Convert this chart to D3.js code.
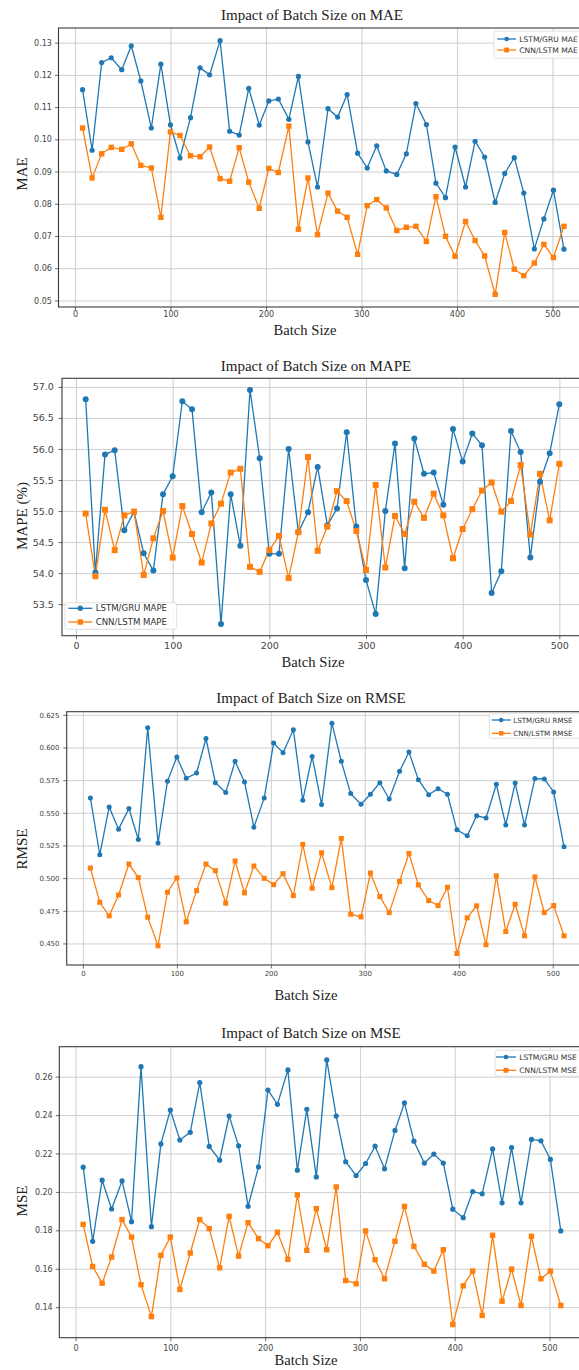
<!DOCTYPE html>
<html><head><meta charset="utf-8">
<script src="https://cdn.jsdelivr.net/npm/d3@7"></script>
<style>body{margin:0;background:#fff;overflow:hidden} svg{display:block}</style>
</head><body><svg id="c" width="579" height="1370"></svg>
<script>
// ---------- DATA ----------
const batchSizesA = [8,18,28,38,49,59,69,80,90,100,110,121,131,141,152,162,172,182,193,203,213,224,234,244,254,265,275,285,296,306,316,326,337,347,357,368,378,388,398,409,419,429,440,450,460,470,481,491,501,512];
const batchSizesB = [10,20,30,40,50,60,70,80,90,100,110,120,130,140,150,160,170,180,190,200,210,220,230,240,250,260,270,280,290,300,310,320,330,340,350,360,370,380,390,400,410,420,430,440,450,460,470,480,490,500];

const maeLstmGru = [0.1154,0.0966,0.1238,0.1253,0.1216,0.1290,0.1181,0.1035,0.1233,0.1045,0.0942,0.1067,0.1222,0.1200,0.1306,0.1025,0.1013,0.1158,0.1044,0.1119,0.1125,0.1062,0.1195,0.0992,0.0852,0.1095,0.1069,0.1139,0.0957,0.0911,0.0980,0.0902,0.0891,0.0955,0.1111,0.1046,0.0864,0.0819,0.0976,0.0852,0.0994,0.0945,0.0804,0.0894,0.0943,0.0833,0.0660,0.0753,0.0842,0.0659];
const maeCnnLstm = [0.1035,0.0880,0.0955,0.0975,0.0969,0.0986,0.0919,0.0911,0.0758,0.1023,0.1012,0.0949,0.0946,0.0976,0.0878,0.0870,0.0974,0.0867,0.0786,0.0910,0.0897,0.1041,0.0721,0.0880,0.0704,0.0833,0.0777,0.0758,0.0643,0.0794,0.0813,0.0787,0.0717,0.0727,0.0730,0.0683,0.0822,0.0699,0.0637,0.0745,0.0686,0.0638,0.0519,0.0711,0.0597,0.0577,0.0616,0.0674,0.0633,0.0730];

const mapeLstmGru = [56.80,54.01,55.91,55.98,54.69,54.99,54.32,54.04,55.27,55.56,56.77,56.64,54.98,55.30,53.18,55.27,54.44,56.95,55.85,54.31,54.31,56.00,54.66,54.98,55.71,54.77,55.04,56.27,54.75,53.89,53.34,55.00,56.09,54.08,56.17,55.60,55.62,55.10,56.32,55.80,56.25,56.06,53.68,54.03,56.29,55.95,54.25,55.47,55.93,56.72];
const mapeCnnLstm = [54.96,53.95,55.02,54.37,54.93,54.99,53.97,54.56,55.00,54.25,55.08,54.63,54.17,54.80,55.12,55.62,55.68,54.10,54.02,54.37,54.60,53.92,54.66,55.87,54.36,54.75,55.32,55.16,54.68,54.05,55.42,54.09,54.92,54.63,55.15,54.89,55.28,54.93,54.24,54.71,55.03,55.33,55.46,54.99,55.16,55.74,54.62,55.60,54.85,55.76];

const rmseLstmGru = [0.5614,0.5179,0.5545,0.5375,0.5533,0.5296,0.6151,0.5268,0.5741,0.5927,0.5764,0.5805,0.6069,0.5731,0.5655,0.5894,0.5736,0.5390,0.5614,0.6034,0.5960,0.6136,0.5596,0.5932,0.5563,0.6186,0.5894,0.5647,0.5566,0.5642,0.5731,0.5606,0.5818,0.5965,0.5754,0.5639,0.5685,0.5642,0.5370,0.5324,0.5477,0.5461,0.5718,0.5406,0.5728,0.5406,0.5762,0.5759,0.5660,0.5240];
const rmseCnnLstm = [0.5077,0.4815,0.4711,0.4871,0.5108,0.5004,0.4701,0.4482,0.4892,0.5001,0.4665,0.4904,0.5108,0.5057,0.4808,0.5131,0.4887,0.5093,0.4998,0.4950,0.5034,0.4866,0.5258,0.4922,0.5194,0.4927,0.5304,0.4724,0.4703,0.5039,0.4859,0.4736,0.4975,0.5189,0.4948,0.4828,0.4790,0.4930,0.4423,0.4696,0.4788,0.4490,0.5017,0.4591,0.4800,0.4558,0.5009,0.4736,0.4790,0.4558];

const mseLstmGru = [0.2129,0.1743,0.2061,0.1911,0.2057,0.1845,0.2652,0.1819,0.2250,0.2426,0.2270,0.2310,0.2569,0.2237,0.2165,0.2395,0.2240,0.1925,0.2130,0.2530,0.2456,0.2635,0.2113,0.2430,0.2078,0.2687,0.2395,0.2157,0.2085,0.2148,0.2238,0.2120,0.2320,0.2463,0.2264,0.2150,0.2197,0.2150,0.1910,0.1866,0.2002,0.1990,0.2224,0.1943,0.2231,0.1943,0.2273,0.2266,0.2169,0.1797];
const mseCnnLstm = [0.1831,0.1612,0.1525,0.1661,0.1856,0.1765,0.1517,0.1351,0.1670,0.1765,0.1492,0.1682,0.1856,0.1809,0.1605,0.1873,0.1666,0.1840,0.1757,0.1720,0.1790,0.1649,0.1984,0.1696,0.1913,0.1699,0.2026,0.1539,0.1522,0.1797,0.1647,0.1548,0.1743,0.1925,0.1717,0.1623,0.1588,0.1699,0.1310,0.1511,0.1588,0.1357,0.1774,0.1431,0.1598,0.1409,0.1769,0.1548,0.1588,0.1409];

const xTickValues = [0,100,200,300,400,500];
const maeTicks = [0.05,0.06,0.07,0.08,0.09,0.10,0.11,0.12,0.13];
const mapeTicks = [53.5,54.0,54.5,55.0,55.5,56.0,56.5,57.0];
const rmseTicks = [0.450,0.475,0.500,0.525,0.550,0.575,0.600,0.625];
const mseTicks = [0.14,0.16,0.18,0.20,0.22,0.24,0.26];

const titles = ["Impact of Batch Size on MAE","Impact of Batch Size on MAPE","Impact of Batch Size on RMSE","Impact of Batch Size on MSE"];
const yLabels = ["MAE","MAPE (%)","RMSE","MSE"];
const xLabel = "Batch Size";
const seriesNames = [["LSTM/GRU MAE","CNN/LSTM MAE"],["LSTM/GRU MAPE","CNN/LSTM MAPE"],["LSTM/GRU RMSE","CNN/LSTM RMSE"],["LSTM/GRU MSE","CNN/LSTM MSE"]];

// ---------- STYLE / LAYOUT ----------
const BLUE = "#1f77b4", ORANGE = "#ff7f0e";
const svg = d3.select("#c");
const SERIF = "'Liberation Serif','Times New Roman',serif";
const SANS = "'DejaVu Sans',sans-serif";

const panels = [
 {x: batchSizesA, a: maeLstmGru, b: maeCnnLstm, yTicks: maeTicks, fmt: ".2f",
  left:58.5, right:588, top:28, bottom:307, tickFont:8, yTickGap:6.6, xTickBase:317.5,
  titleX:312, titleY:19.5, xlabX:305, xlabY:335, ylabX:27, ylabY:174,
  r:2.6, sq:5.4,
  leg:{x:494, y:31, h:27.3, w:120, rows:[39,50], l0:497.3, l1:516, tx:519.3, font:7.6}},
 {x: batchSizesB, a: mapeLstmGru, b: mapeCnnLstm, yTicks: mapeTicks, fmt: ".1f",
  left:62, right:583, top:378.3, bottom:635.7, tickFont:9.5, yTickGap:8.2, xTickBase:649,
  titleX:316, titleY:370.5, xlabX:313, xlabY:667, ylabX:26.5, ylabY:516,
  r:3, sq:6,
  leg:{x:65, y:602.7, h:26.6, w:111.7, rows:[608.3,622], l0:68.3, l1:92.3, tx:95.7, font:8.6}},
 {x: batchSizesA, a: rmseLstmGru, b: rmseCnnLstm, yTicks: rmseTicks, fmt: ".3f",
  left:66.7, right:587.7, top:711.7, bottom:965, tickFont:7, yTickGap:7.2, xTickBase:976.7,
  titleX:311, titleY:703, xlabX:306, xlabY:999.5, ylabX:27, ylabY:849,
  r:2.5, sq:5,
  leg:{x:489.3, y:713.3, h:25, w:120, rows:[720,733.3], l0:491.7, l1:510.7, tx:513.3, font:7.1}},
 {x: batchSizesA, a: mseLstmGru, b: mseCnnLstm, yTicks: mseTicks, fmt: ".2f",
  left:59.3, right:584.7, top:1046.7, bottom:1337.7, tickFont:8, yTickGap:6.6, xTickBase:1351,
  titleX:311, titleY:1038, xlabX:306, xlabY:1365, ylabX:27, ylabY:1201,
  r:2.6, sq:5.4,
  leg:{x:495, y:1050.3, h:26, w:120, rows:[1057,1070.3], l0:496, l1:516, tx:519.3, font:7.5}}
];

function padded(ext){ const d = (ext[1]-ext[0])*0.05; return [ext[0]-d, ext[1]+d]; }

panels.forEach((p, i) => {
  const g = svg.append("g");
  const x = d3.scaleLinear().domain(padded(d3.extent(p.x))).range([p.left, p.right]);
  const y = d3.scaleLinear().domain(padded(d3.extent(p.a.concat(p.b)))).range([p.bottom, p.top]);
  const H = p.bottom - p.top, W = p.right - p.left;

  // grid
  g.append("g").attr("transform", `translate(0,${p.bottom})`)
    .call(d3.axisBottom(x).tickValues(xTickValues).tickSize(-H).tickFormat(""))
    .call(s => { s.select(".domain").remove(); s.selectAll("line").attr("stroke","#cfcfcf").attr("stroke-width",1); });
  g.append("g").attr("transform", `translate(${p.left},0)`)
    .call(d3.axisLeft(y).tickValues(p.yTicks).tickSize(-W).tickFormat(""))
    .call(s => { s.select(".domain").remove(); s.selectAll("line").attr("stroke","#cfcfcf").attr("stroke-width",1); });

  // axes with ticks and labels
  const xa = g.append("g").attr("transform", `translate(0,${p.bottom})`)
    .call(d3.axisBottom(x).tickValues(xTickValues).tickSize(3.5).tickPadding(p.xTickBase - p.bottom - p.tickFont*0.76 - 3.5).tickFormat(d3.format("d")));
  const ya = g.append("g").attr("transform", `translate(${p.left},0)`)
    .call(d3.axisLeft(y).tickValues(p.yTicks).tickSize(3.5).tickPadding(p.yTickGap - 3.5).tickFormat(d3.format(p.fmt)));
  [xa, ya].forEach(a => {
    a.select(".domain").remove();
    a.selectAll(".tick line").attr("stroke","#444").attr("stroke-width",0.8);
    a.selectAll(".tick text").attr("fill","#444").style("font-family",SANS).style("font-size",p.tickFont+"px");
  });

  // frame
  g.append("rect").attr("x",p.left).attr("y",p.top).attr("width",W).attr("height",H)
    .attr("fill","none").attr("stroke","#3a3a3a").attr("stroke-width",1.1);

  // series
  const line = (vals) => d3.line().x((d,j) => x(p.x[j])).y(d => y(d))(vals);
  g.append("path").attr("d", line(p.a)).attr("fill","none").attr("stroke",BLUE).attr("stroke-width",1.3);
  g.append("path").attr("d", line(p.b)).attr("fill","none").attr("stroke",ORANGE).attr("stroke-width",1.3);
  g.selectAll(null).data(p.a).enter().append("circle")
    .attr("cx",(d,j)=>x(p.x[j])).attr("cy",d=>y(d)).attr("r",p.r).attr("fill",BLUE);
  g.selectAll(null).data(p.b).enter().append("rect")
    .attr("x",(d,j)=>x(p.x[j])-p.sq/2).attr("y",d=>y(d)-p.sq/2).attr("width",p.sq).attr("height",p.sq).attr("fill",ORANGE);

  // legend
  const L = p.leg;
  g.append("rect").attr("x",L.x).attr("y",L.y).attr("width",L.w).attr("height",L.h).attr("rx",2)
    .attr("fill","rgba(255,255,255,0.85)").attr("stroke","#d8d8d8").attr("stroke-width",0.8);
  [BLUE, ORANGE].forEach((c, k) => {
    const ly = L.rows[k], mx = (L.l0 + L.l1)/2;
    g.append("line").attr("x1",L.l0).attr("x2",L.l1).attr("y1",ly).attr("y2",ly).attr("stroke",c).attr("stroke-width",1.3);
    if (k === 0) g.append("circle").attr("cx",mx).attr("cy",ly).attr("r",p.r*0.9).attr("fill",c);
    else g.append("rect").attr("x",mx-p.sq*0.45).attr("y",ly-p.sq*0.45).attr("width",p.sq*0.9).attr("height",p.sq*0.9).attr("fill",c);
    g.append("text").attr("x",L.tx).attr("y",ly).attr("dy","0.36em").text(seriesNames[i][k])
      .style("font-family",SANS).style("font-size",L.font+"px").attr("fill","#333");
  });

  // titles and labels
  g.append("text").attr("x",p.titleX).attr("y",p.titleY).attr("text-anchor","middle").text(titles[i])
    .style("font-family",SERIF).style("font-size","15px").attr("fill","#222");
  g.append("text").attr("x",p.xlabX).attr("y",p.xlabY).attr("text-anchor","middle").text(xLabel)
    .style("font-family",SERIF).style("font-size","14.6px").attr("fill","#222");
  g.append("text").attr("transform",`translate(${p.ylabX},${p.ylabY}) rotate(-90)`).attr("text-anchor","middle").text(yLabels[i])
    .style("font-family",SERIF).style("font-size","15px").attr("fill","#222");
});
</script>
</body></html>
